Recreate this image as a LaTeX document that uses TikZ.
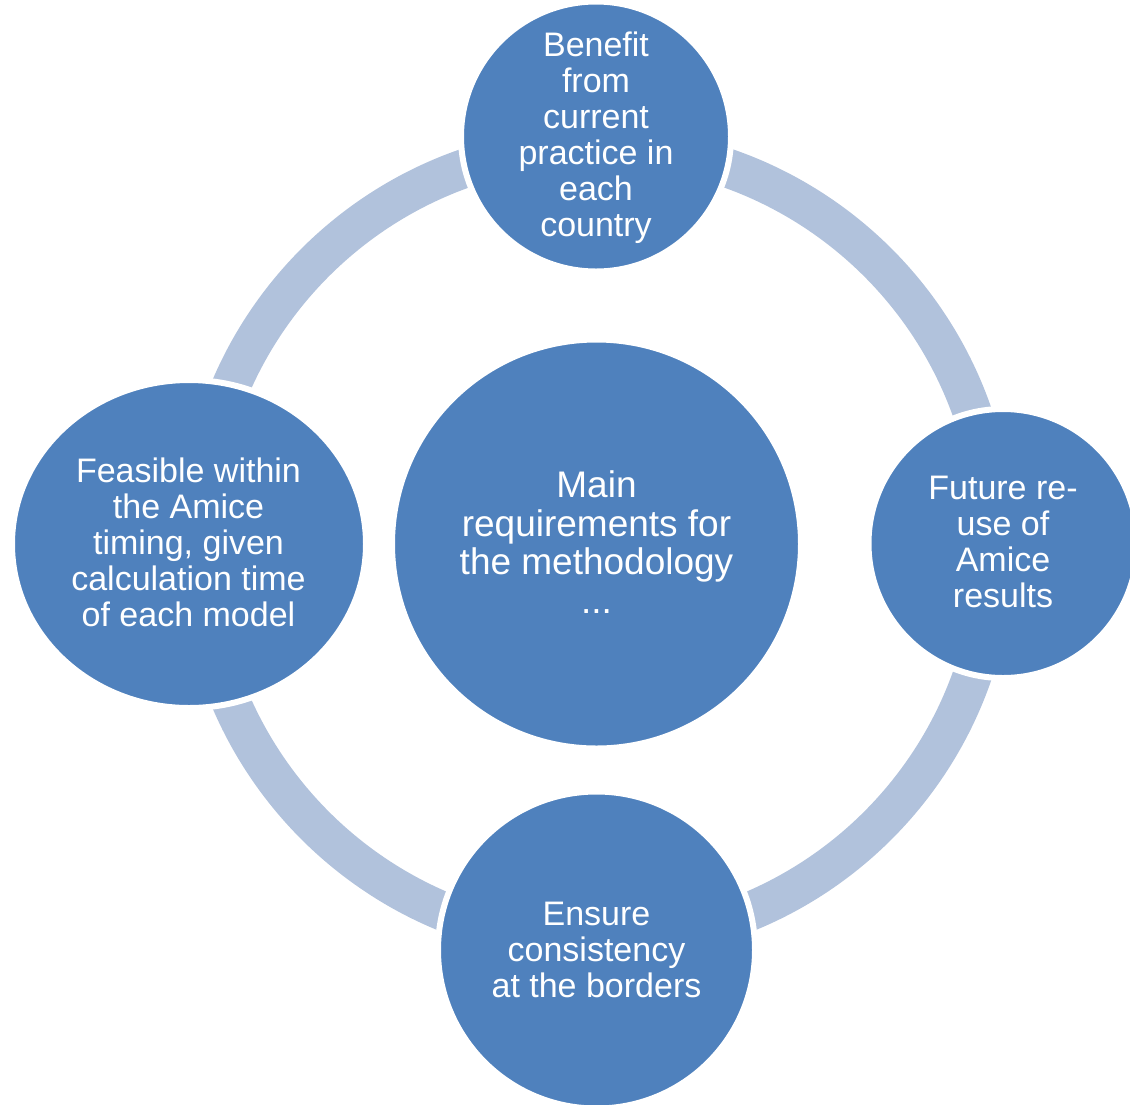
\documentclass[tikz,border=0pt]{standalone}
\usepackage{fontspec}
\setmainfont{Liberation Sans}
\usetikzlibrary{shapes.geometric}
\definecolor{bluefill}{HTML}{4F81BD}
\definecolor{ringblue}{HTML}{B1C2DC}
\begin{document}
\begin{tikzpicture}[x=1pt,y=-1pt,
  bubble/.style={circle, fill=bluefill, draw=white, line width=6pt, inner sep=0pt, outer sep=0pt},
  oval/.style={ellipse, fill=bluefill, draw=white, line width=6pt, inner sep=0pt, outer sep=0pt},
  txt/.style={text=white, align=center, inner sep=0pt, font=\fontsize{34}{36}\selectfont},
  bigtxt/.style={text=white, align=center, inner sep=0pt, font=\fontsize{37}{38.5}\selectfont}]
\useasboundingbox (0,0) rectangle (1130,1104);
\clip (0,0) rectangle (1130,1104);
\coordinate (hub) at (596.5,544);
\draw[ringblue, line width=39pt] (hub) circle[radius=398];
\node[bubble, minimum size=409pt] (main) at (hub) {};
\node[bubble, minimum size=270pt] (top) at (596,136.5) {};
\node[bubble, minimum size=269pt] (right) at (1003,543.5) {};
\node[bubble, minimum size=317pt] (bottom) at (596.5,950) {};
\node[oval, minimum width=354pt, minimum height=328pt] (left) at (189,544) {};
\node[bigtxt] (tmain) at (596.5,542) {Main\\requirements for\\the methodology\\...};
\node[txt] (ttop) at (596,137.3) {Benefit\\from\\current\\practice in\\each\\country};
\node[txt] (tright) at (1003,542) {Future re-\\use of\\Amice\\results};
\node[txt] (tbottom) at (596.5,949.6) {Ensure\\consistency\\at the borders};
\node[txt] (tleft) at (188.5,542) {Feasible within\\the Amice\\timing, given\\calculation time\\of each model};
\end{tikzpicture}
\end{document}
